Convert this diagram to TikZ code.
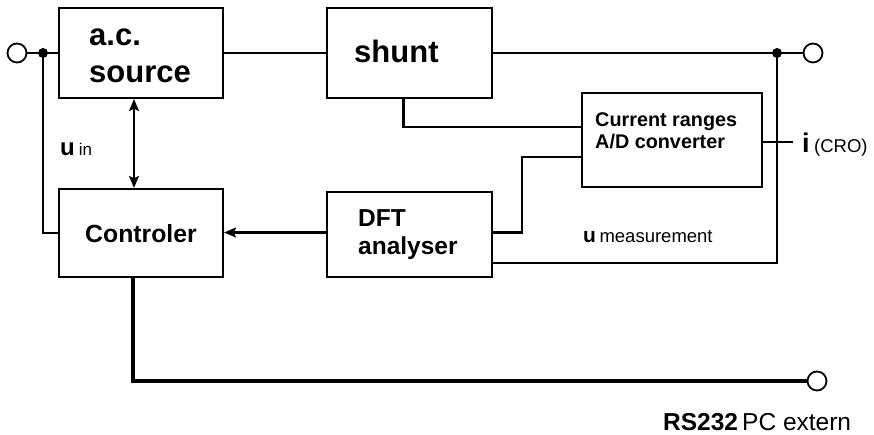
\documentclass[tikz,border=0pt]{standalone}
\usepackage{fontspec}
\setmainfont{Liberation Sans}
\usetikzlibrary{arrows.meta}
\newcommand{\fs}[1]{\fontsize{#1}{#1}\selectfont}
\begin{document}
\begin{tikzpicture}[x=1pt,y=-1pt,
 blk/.style={draw, line width=2.2pt, rectangle, inner sep=0pt},
 wire/.style={line width=2.1pt},
 term/.style={circle, draw, fill=white, line width=1.8pt, minimum size=19pt, inner sep=0pt},
 jdot/.style={circle, fill=black, minimum size=10pt, inner sep=0pt},
 txt/.style={anchor=base west, inner sep=0pt},
 arr/.style={-{Stealth[length=12pt,width=10pt,inset=2.5pt]}},
 darr/.style={{Stealth[length=12pt,width=10pt,inset=2.5pt]}-{Stealth[length=12pt,width=10pt,inset=2.5pt]}}]
\useasboundingbox (0,0) rectangle (874,434);

% blocks
\node[blk, minimum width=164pt, minimum height=90pt] (src) at (141,53) {};
\node[blk, minimum width=165pt, minimum height=90pt] (shunt) at (409.5,53) {};
\node[blk, minimum width=164pt, minimum height=88pt] (ctrl) at (141,233) {};
\node[blk, minimum width=165pt, minimum height=85pt] (dft) at (409.5,234.5) {};
\node[blk, minimum width=180pt, minimum height=94pt] (cur) at (672,140) {};

% block texts
\node[txt] (t1) at (89,45) {\fs{31}\bfseries a.c.};
\node[txt] (t2) at (89,82) {\fs{31}\bfseries source};
\node[txt] (t3) at (354,62) {\fs{31}\bfseries shunt};
\node[txt] (t4) at (85,242) {\fs{24.8}\bfseries Controler};
\node[txt] (t5) at (358,226) {\fs{24.5}\bfseries DFT};
\node[txt] (t6) at (358,254) {\fs{24.5}\bfseries analyser};
\node[txt] (t7) at (595,126) {\fs{19.8}\bfseries Current ranges};
\node[txt] (t8) at (595,148) {\fs{19.8}\bfseries A/D converter};

% terminals and junctions
\node[jdot] (dl) at (43,53) {};
\node[jdot] (dr) at (777,53) {};
\node[term] (tl) at (17,53) {};
\node[term] (tr) at (813,53) {};
\node[term] (tb) at (817,381) {};

% wires
\draw[wire] (tl.east) -- (src.west);
\draw[wire] (dl.center) |- (ctrl.west);
\draw[wire, darr] ([xshift=-7pt]src.south) -- ([xshift=-7pt]ctrl.north);
\draw[wire] (src.east) -- (shunt.west);
\draw[wire] (shunt.east) -- (dr.center) -- (tr.west);
\draw[wire] (dr.center) |- ([yshift=-28.5pt]dft.east);
\draw[wire] ([xshift=-6pt]shunt.south) |- ([yshift=13pt]cur.west);
\draw[wire] ([yshift=2pt]dft.east) -- ++(29,0) |- ([yshift=-17pt]cur.west);
\draw[wire, arr] ([yshift=2pt]dft.west) -- ([yshift=2pt]dft.west -| ctrl.east);
\coordinate (croend) at (793,142);
\draw[wire] ([yshift=-2pt]cur.east) -- (croend);
\draw[line width=3.2pt] ([xshift=-8pt]ctrl.south) |- (tb.west);

% labels
\node[txt] (lin) at (60,155) {\fs{24}\bfseries u\,\fs{17}\mdseries in};
\node[txt] (lcro) at (802,152) {\fs{27}\bfseries i\,\fs{18.5}\mdseries (CRO)};
\node[txt] (lmeas) at (583,242) {\fs{21}\bfseries u\,\fs{18.5}\mdseries measurement};
\node[txt] (lrs) at (663,430) {\fs{24.5}\bfseries RS232\,\mdseries PC extern};
\end{tikzpicture}
\end{document}
